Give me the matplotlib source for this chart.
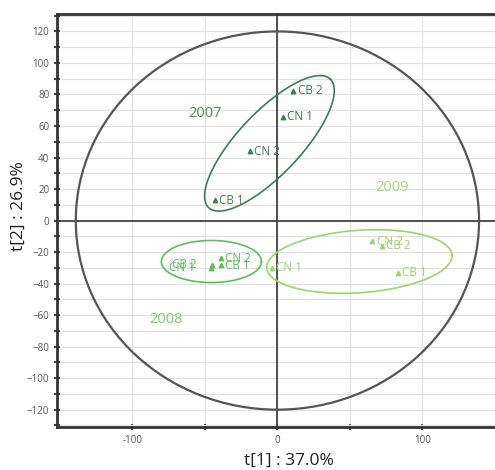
import numpy as np
import matplotlib
matplotlib.use("Agg")
import matplotlib.pyplot as plt
from matplotlib.patches import Ellipse
from matplotlib.ticker import MultipleLocator

plt.rcParams['font.family'] = ['Open Sans', 'DejaVu Sans']

# scores per year (t[1], t[2])
names_2007 = ["CB 1", "CN 2", "CN 1", "CB 2"]
t1_2007 = [-43, -19, 4, 11]
t2_2007 = [13, 44, 66, 82.5]

names_2008 = ["CB 2", "CN 1", "CN 2", "CB 1"]
t1_2008 = [-45, -46, -39, -39]
t2_2008 = [-28, -30, -24, -28.5]

names_2009 = ["CN 1", "CN 2", "CB 2", "CB 1"]
t1_2009 = [-4, 65.5, 72, 83]
t2_2009 = [-30, -13, -16, -33]

# group ellipses: centre, semi axes (in t[1] units), tilt in degrees
ell_center = {"2007": (-5.5, 49), "2008": (-45.5, -26), "2009": (56.5, -26)}
ell_axes = {"2007": (61, 21.5), "2008": (34.5, 14.5), "2009": (64, 21.5)}
ell_angle = {"2007": 46.6, "2008": 0, "2009": 4}

# Hotelling T2 ellipse
hot_a, hot_b = 139, 120

year_pos = {"2007": (-50, 68), "2008": (-77, -63), "2009": (79, 21)}

colors = {"2007": "#3d7f4f", "2008": "#5cbf5c", "2009": "#9ad66c"}
text_colors = {"2007": "#4f8a55", "2008": "#7ccd6e", "2009": "#a5d875"}

fig = plt.figure(figsize=(4.95, 4.70), dpi=100)
ax = fig.add_axes([0.115, 0.0915, 0.885, 0.8785])
xlim = (-152, 150)
ylim = (-131, 131)
ax.set_xlim(*xlim)
ax.set_ylim(*ylim)

# grid
ax.xaxis.set_major_locator(MultipleLocator(50))
ax.yaxis.set_major_locator(MultipleLocator(20))
ax.yaxis.set_minor_locator(MultipleLocator(10))
ax.grid(True, which="both", color="#e2e2e2", lw=0.9)
ax.set_axisbelow(True)
ax.set_xticks([-100, -50, 0, 50, 100])
ax.set_xticklabels(["-100", "", "0", "", "100"])
ax.tick_params(axis="both", labelsize=7, colors="#444444", length=4, width=1.5,
               direction="inout")
ax.tick_params(axis="y", which="minor", length=4, width=1.5, direction="inout", color="#444444")
for lab in ax.get_xticklabels() + ax.get_yticklabels():
    lab.set_color("#555555")

for s in ["left", "bottom", "top"]:
    ax.spines[s].set_linewidth(2)
    ax.spines[s].set_color("#333333")
ax.spines["right"].set_visible(False)

ax.axhline(0, color="#444444", lw=1.3, zorder=2)
ax.axvline(0, color="#444444", lw=1.3, zorder=2)

ax.add_patch(Ellipse((0, 0), 2 * hot_a, 2 * hot_b, fill=False, ec="#555555", lw=1.6, zorder=3))

# pixel ratio so tilted ellipses look right on screen
pos = ax.get_position()
fw, fh = fig.get_size_inches() * fig.dpi
sx = pos.width * fw / (xlim[1] - xlim[0])
sy = pos.height * fh / (ylim[1] - ylim[0])
ratio = sy / sx

t = np.linspace(0, 2 * np.pi, 300)
for yr in ["2007", "2008", "2009"]:
    cx, cy = ell_center[yr]
    a, b = ell_axes[yr]
    th = np.radians(ell_angle[yr])
    ex = cx + a * np.cos(t) * np.cos(th) - b * np.sin(t) * np.sin(th)
    ey = cy + (a * np.cos(t) * np.sin(th) + b * np.sin(t) * np.cos(th)) / ratio
    ax.plot(ex, ey, color=colors[yr], lw=1.2, zorder=4)

groups = [("2007", names_2007, t1_2007, t2_2007),
          ("2008", names_2008, t1_2008, t2_2008),
          ("2009", names_2009, t1_2009, t2_2009)]
for yr, names, xs, ys in groups:
    ax.scatter(xs, ys, marker="^", s=10, color=colors[yr], zorder=5)
    for n, x, y in zip(names, xs, ys):
        left = yr == "2008" and n in ("CB 2", "CN 1")
        ax.annotate(n, (x, y), xytext=(-11 if left else 3, 0), textcoords="offset points",
                    ha="right" if left else "left", va="center", fontsize=8.5,
                    color=colors[yr], zorder=6)
    ax.text(*year_pos[yr], yr, color=text_colors[yr], fontsize=10.5, ha="center",
            va="center", zorder=6)

ax.set_xlabel("t[1] : 37.0%", fontsize=12.5, color="#222222")
ax.set_ylabel("t[2] : 26.9%", fontsize=12.5, color="#222222")
ax.xaxis.set_label_coords(0.53, -0.062)
ax.yaxis.set_label_coords(-0.068, 0.535)

fig.savefig("out.png", dpi=100)
